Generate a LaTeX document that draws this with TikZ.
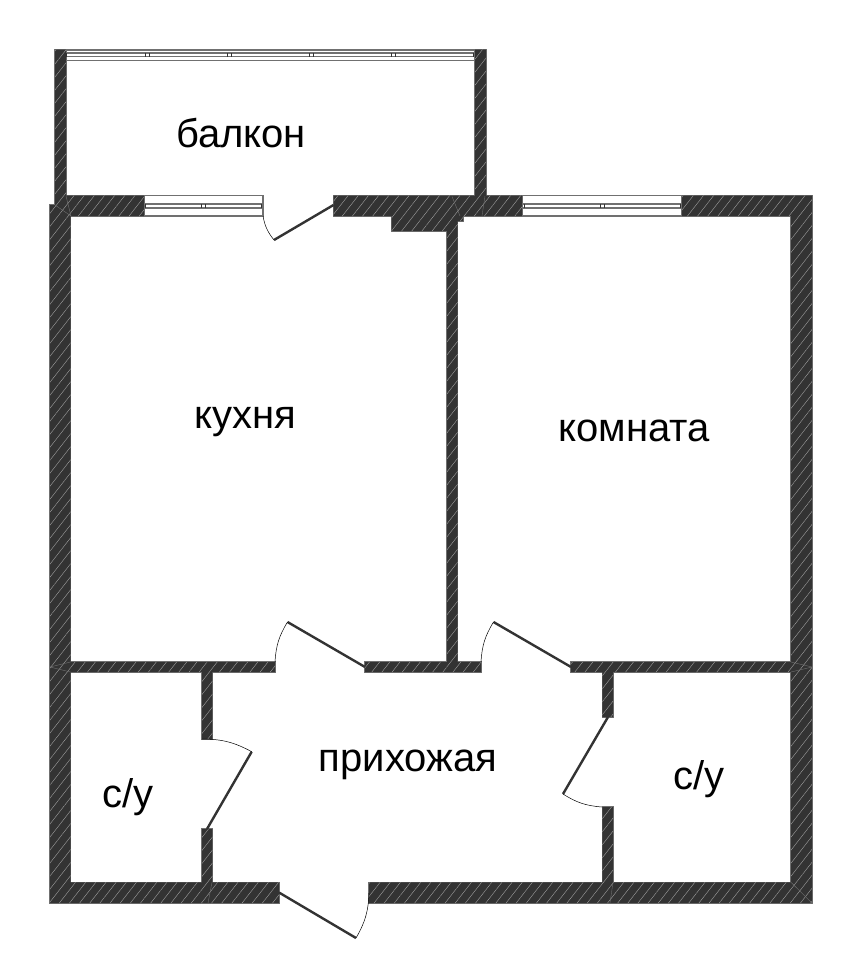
\documentclass[tikz,border=0pt]{standalone}
\usepackage{fontspec}
\setmainfont{Liberation Sans}
\usetikzlibrary{patterns.meta}
\definecolor{walldark}{HTML}{333333}
\definecolor{wallline}{HTML}{707070}
\definecolor{wallhatch}{HTML}{A0A0A0}
\tikzset{
  wallfill/.style={fill=walldark, postaction={pattern={Lines[angle=52,distance=8pt,line width=.4pt]}, pattern color=wallhatch}},
  walledge/.style={draw=wallline, line width=1.2pt},
  seamline/.style={draw=wallline, line width=.4pt},
  frameline/.style={draw=wallline, line width=1.5pt},
  paneline/.style={draw=wallline, line width=2pt},
  tickline/.style={draw=black!80, line width=.8pt},
  leaf/.style={draw=walldark, line width=2.4pt},
  swing/.style={draw=black, line width=.5pt},
  roomlabel/.style={font=\fontsize{40}{44}\selectfont, inner sep=0pt}
}
\newcommand{\wallrects}{
  (55,49.5) rectangle (66,205)
  (475,49.5) rectangle (486,200)
  (66,195.5) rectangle (144,216)
  (333.5,195.5) rectangle (522,216)
  (682,195.5) rectangle (812,216)
  (391.7,216) rectangle (447,231)
  (447,216) rectangle (463,221)
  (50,205) rectangle (70.5,903)
  (791,216) rectangle (812,903)
  (447,216) rectangle (457.5,662)
  (70.5,662) rectangle (275,672)
  (365,662) rectangle (481,672)
  (571,662) rectangle (791,672)
  (50,882.3) rectangle (279,903)
  (369,882.3) rectangle (812,903)
  (202,672) rectangle (212.3,739)
  (202,829) rectangle (212.3,882.3)
  (602.3,672) rectangle (613,717)
  (602.3,807) rectangle (613,882.3)
}
\begin{document}
\begin{tikzpicture}[x=1pt,y=-1pt]
  \useasboundingbox (0,0) rectangle (862,953);
  \path [walledge] \wallrects;
  \path [wallfill] \wallrects;
  % seams
  \draw [seamline] (55,205) -- (71,216) (66,196) -- (71,216);
  \draw [seamline] (452,196.5) -- (460,216) (485,196) -- (482,216);
  \draw [seamline] (50,667) -- (70.5,662) (50,667) -- (70.5,672);
  \draw [seamline] (791,662) -- (812,667) -- (791,672);
  \draw [seamline] (791,882.3) -- (812,903) (212,882.3) -- (208,903) (613,882.3) -- (610,903);
  % windows
  \draw [frameline] (144,195.5) -- (263,195.5) -- (263,216) -- (144,216);
  \draw [paneline] (144,204) -- (263,204) (144,208) -- (263,208);
  \draw [frameline] (522,195.5) -- (682,195.5) (522,216) -- (682,216);
  \draw [paneline] (522,204) -- (682,204) (522,208) -- (682,208);
  \foreach \tx in {145.5,201.3,205.7,261.7}
    \draw [tickline] (\tx,204) -- (\tx,208);
  \foreach \tx in {524,600.7,604,680}
    \draw [tickline] (\tx,204) -- (\tx,208);
  \foreach \ly in {49.8,52.8,56.6,60.5}
    \draw [frameline] (66,\ly) -- (475,\ly);
  \foreach \tx in {66.7,145.3,149,227.7,231.3,309.7,313.3,391.7,395.3,473.5}
    \draw [tickline] (\tx,52.8) -- (\tx,56.6);
  % doors
  \draw [leaf] (274,240) -- (333.5,205);
  \draw [swing] (263,216) to [bend right=14] (274,240);
  \draw [leaf] (365,667) -- (287.5,622);
  \draw [swing] (275,662) to [bend left=14] (287.5,622);
  \draw [leaf] (571,667) -- (493.5,622);
  \draw [swing] (481,662) to [bend left=14] (493.5,622);
  \draw [leaf] (279,892.5) -- (356,938);
  \draw [swing] (369,893) to [bend left=14] (356,938);
  \draw [leaf] (207,829) -- (251.7,751.7);
  \draw [swing] (202,739) to [bend left=14] (251.7,751.7);
  \draw [leaf] (608,717) -- (563,794);
  \draw [swing] (602,807) to [bend left=14] (563,794);
  % rooms
  \node [roomlabel] (balkon) at (241,133) {балкон};
  \node [roomlabel] (kuhnya) at (245,422) {кухня};
  \node [roomlabel] (komnata) at (634,431) {комната};
  \node [roomlabel] (prihozhaya) at (408,765) {прихожая};
  \node [roomlabel] (suleft) at (128,797) {с/у};
  \node [roomlabel] (suright) at (699,779) {с/у};
\end{tikzpicture}
\end{document}
